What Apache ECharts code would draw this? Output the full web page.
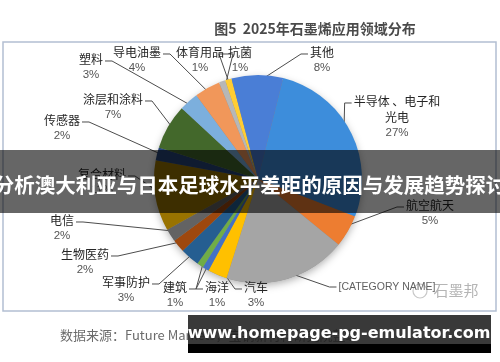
<!DOCTYPE html>
<html><head><meta charset="utf-8">
<script src="https://cdn.jsdelivr.net/npm/echarts@6/dist/echarts.min.js"></script>
<style>html,body{margin:0;padding:0;background:#fff}#c{width:500px;height:362px}</style>
</head><body><div id="c"></div>
<script>
// ---- data (clockwise, first slice = 半导体、电子和光电) ----
const categories = ['半导体 、电子和\n光电', '航空航天', '[CATEGORY NAME]', '汽车', '海洋', '建筑', '军事防护', '生物医药', '电信', '复合材料', '传感器', '涂层和涂料', '塑料', '导电油墨', '体育用品', '抗菌', '其他'];
const shares = [27, 5, 19, 3, 1, 1, 3, 2, 2, 11, 2, 7, 3, 4, 1, 1, 8];
const titleText = '图5  2025年石墨烯应用领域分布';
const sourceText = '数据来源：Future Markets，宝钢新材料研究院整理';
const bannerText = '分析澳大利亚与日本足球水平差距的原因与发展趋势探讨';
const urlText = 'www.homepage-pg-emulator.com';

// ---- styles / layout (kept apart from data) ----
const colors = ['#3d8ddb', '#ED7D31', '#A5A5A5', '#FFC000', '#4472C4', '#70AD47', '#255E91', '#9E480E', '#636363', '#997300', '#264478', '#43682B', '#7CAFDD', '#F1975A', '#B7B7B7', '#FFCD33', '#4a7ed6'];
const labelAt = [[397, 117], [430, 213], [387, 287], [256, 295], [217, 295], [175, 295], [126, 290], [85, 262], [62, 228], [102, 182], [62, 128], [113, 107], [91, 67], [137, 60], [200, 60], [240, 60], [322, 60]];
const pieCenter = [258, 179], pieRadius = 104;

const chart = echarts.init(document.getElementById('c'), null, {renderer: 'canvas'});
const cjk = '"Noto Sans CJK SC", "Liberation Sans", sans-serif';

chart.setOption({
  animation: false,
  backgroundColor: '#fff',
  graphic: [
    {type: 'rect', z: 0, shape: {x: 3, y: 42, width: 493, height: 269}, style: {fill: 'none', stroke: '#b3bfd2', lineWidth: 1.5}},
    {type: 'circle', z: 0, shape: {cx: pieCenter[0], cy: pieCenter[1] + 1, r: pieRadius - 1}, style: {fill: '#888', shadowBlur: 8, shadowColor: 'rgba(0,0,0,0.35)', shadowOffsetY: 2}},
    {type: 'text', z: 1, x: 315, y: 29, style: {text: titleText, fill: '#4a4a4a', fontSize: 14, fontWeight: 'bold', fontFamily: cjk, align: 'center', verticalAlign: 'middle', textAlign: 'center', textVerticalAlign: 'middle'}},
    {type: 'text', z: 1, x: 456, y: 290, style: {text: '石墨邦', fill: '#b5b5b5', fontSize: 15, fontFamily: cjk, align: 'center', verticalAlign: 'middle', textAlign: 'center', textVerticalAlign: 'middle'}},
    {type: 'circle', z: 1, shape: {cx: 420, cy: 291, r: 7}, style: {fill: 'none', stroke: '#c8c8c8', lineWidth: 1.2}},
    {type: 'text', z: 1, x: 60, y: 335, style: {text: sourceText, fill: '#6b6b6b', fontSize: 13, fontFamily: cjk, align: 'left', verticalAlign: 'middle', textAlign: 'left', textVerticalAlign: 'middle'}},
    {type: 'rect', z: 100, shape: {x: 0, y: 150, width: 500, height: 63}, style: {fill: 'rgba(0,0,0,0.6)'}},
    {type: 'text', z: 101, x: 250, y: 185, style: {text: bannerText, fill: '#ffffff', fontSize: 20.5, fontWeight: 'bold', fontFamily: cjk, align: 'center', verticalAlign: 'middle', textAlign: 'center', textVerticalAlign: 'middle'}},
    {type: 'rect', z: 100, shape: {x: 188, y: 315, width: 303, height: 30}, style: {fill: 'rgba(30,30,30,0.88)'}},
    {type: 'rect', z: 100, shape: {x: 188, y: 344, width: 303, height: 9}, style: {fill: '#000'}},
    {type: 'text', z: 101, x: 339, y: 334, style: {text: urlText, fill: '#ffffff', fontSize: 16, fontWeight: 'bold', fontFamily: '"DejaVu Sans", sans-serif', align: 'center', verticalAlign: 'middle', textAlign: 'center', textVerticalAlign: 'middle'}}
  ],
  series: [{
    type: 'pie',
    z: 5,
    center: pieCenter,
    radius: pieRadius,
    startAngle: 76,
    clockwise: true,
    avoidLabelOverlap: false,
    itemStyle: {borderWidth: 0},
    data: categories.map((n, i) => ({name: n, value: shares[i], itemStyle: {color: colors[i]}})),
    label: {
      show: true,
      position: 'outside',
      formatter: p => p.name.charAt(0) === '[' ? '{c|' + p.name + '}' : p.name.split('\n').map(s => '{n|' + s + '}').join('\n') + '\n{p|' + p.value + '%}',
      rich: {
        n: {fontSize: 12, color: '#262626', fontFamily: cjk, lineHeight: 16, align: 'center'},
        p: {fontSize: 11.5, color: '#555', fontFamily: '"Liberation Sans", sans-serif', lineHeight: 16, align: 'center'},
        c: {fontSize: 10.5, color: '#606060', fontFamily: '"Liberation Sans", sans-serif', lineHeight: 14}
      }
    },
    labelLine: {show: true, lineStyle: {color: '#4d4d4d', width: 1}},
    labelLayout: function (params) {
      const pos = labelAt[params.dataIndex];
      const r = params.labelRect;
      const res = {x: pos[0], y: pos[1], align: 'center', verticalAlign: 'middle'};
      const pts = params.labelLinePoints;
      if (pts && pts.length) {
        const cx = pieCenter[0], cy = pieCenter[1];
        const a = [cx + (pts[0][0] - cx) * 0.93, cy + (pts[0][1] - cy) * 0.93];
        const nameY = r.height > 20 ? pos[1] - r.height / 2 + 8 : pos[1];
        const right = a[0] > pos[0];
        const ex = right ? pos[0] + r.width / 2 + 2 : pos[0] - r.width / 2 - 2;
        const elbow = [ex + (right ? 7 : -7), nameY];
        res.labelLinePoints = [a, elbow, [ex, nameY]];
      }
      return res;
    }
  }]
});
</script>
</body></html>
